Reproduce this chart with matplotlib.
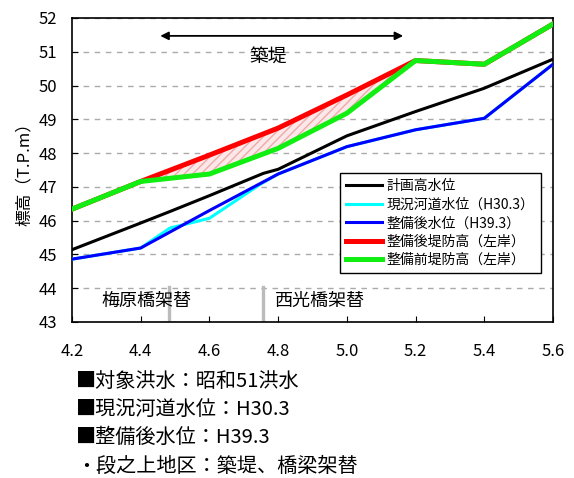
import matplotlib
matplotlib.use('Agg')
import matplotlib.pyplot as plt

plt.rcParams['font.family'] = ['Noto Sans CJK JP', 'DejaVu Sans']

# 距離標 (km)
x_hwl = [4.2, 4.4, 4.485, 4.6, 4.757, 4.8, 5.0, 5.2, 5.4, 5.6]
hwl = [45.14, 45.93, 46.27, 46.74, 47.40, 47.52, 48.51, 49.23, 49.92, 50.78]  # 計画高水位

x_now = [4.2, 4.4, 4.485, 4.6, 4.75, 4.8, 5.0, 5.2, 5.4, 5.6]
wl_now = [44.86, 45.19, 45.78, 46.07, 47.09, 47.38, 48.19, 48.69, 49.03, 50.63]  # 現況河道水位

x_after = [4.2, 4.4, 4.6, 4.8, 5.0, 5.2, 5.4, 5.6]
wl_after = [44.86, 45.19, 46.30, 47.38, 48.19, 48.69, 49.03, 50.63]  # 整備後水位

x_bank = [4.2, 4.4, 4.6, 4.8, 5.0, 5.2, 5.4, 5.6]
bank_after = [46.34, 47.16, 47.94, 48.74, 49.72, 50.74, 50.63, 51.82]  # 整備後堤防高
bank_before = [46.34, 47.16, 47.38, 48.14, 49.18, 50.74, 50.63, 51.82]  # 整備前堤防高

labels = ['計画高水位', '現況河道水位（H30.3）', '整備後水位（H39.3）',
          '整備後堤防高（左岸）', '整備前堤防高（左岸）']

bridges = [4.483, 4.755]
bridge_names = ['梅原橋架替', '西光橋架替']

notes = ['■対象洪水：昭和51洪水', '■現況河道水位：H30.3',
         '■整備後水位：H39.3', '・段之上地区：築堤、橋梁架替']

fig = plt.figure(figsize=(5.74, 4.78), dpi=100)
ax = fig.add_axes([0.1254, 0.3264, 0.838, 0.636])

# 築堤区間のハッチ
ax.fill_between(x_bank, bank_before, bank_after, facecolor='#fce8e8',
                edgecolor='#eeaaaa', hatch='////', linewidth=0, zorder=1)

ax.plot(x_hwl, hwl, color='black', lw=2.2, label=labels[0], zorder=3)
ax.plot(x_now, wl_now, color='#00ffff', lw=2.2, label=labels[1], zorder=3)
ax.plot(x_after, wl_after, color='#0000ff', lw=2.2, label=labels[2], zorder=4)
ax.plot(x_bank, bank_after, color='#ff0000', lw=3.6, label=labels[3], zorder=5)
ax.plot(x_bank, bank_before, color='#11ee11', lw=3.6, label=labels[4], zorder=6)

# 橋梁架替位置
for b in bridges:
    ax.plot([b, b], [43, 44.05], color='#bbbbbb', lw=2.4, zorder=2)
ax.text(4.286, 43.63, bridge_names[0], fontsize=13, va='center', ha='left')
ax.text(4.79, 43.63, bridge_names[1], fontsize=13, va='center', ha='left')

# 築堤区間の矢印
ax.annotate('', xy=(4.457, 51.47), xytext=(5.164, 51.47),
            arrowprops=dict(arrowstyle='<|-|>', color='black', lw=1.3,
                            mutation_scale=12, shrinkA=0, shrinkB=0))
ax.text(4.77, 50.86, '築堤', fontsize=13.5, ha='center', va='center')

ax.set_xlim(4.2, 5.6)
ax.set_ylim(43, 52)
ax.set_xticks([4.2, 4.4, 4.6, 4.8, 5.0, 5.2, 5.4, 5.6])
ax.set_xticklabels(['4.2', '4.4', '4.6', '4.8', '5.0', '5.2', '5.4', '5.6'])
ax.set_yticks(range(43, 53))
ax.tick_params(axis='x', direction='in', length=4, pad=15, labelsize=12)
ax.tick_params(axis='y', direction='in', length=4, pad=11, labelsize=12)
ax.yaxis.grid(True, color='#aaaaaa', linestyle=(0, (4, 4)), lw=1)
ax.set_axisbelow(True)
for s in ax.spines.values():
    s.set_linewidth(1.2)
ax.set_ylabel('標高（T.P.m）', fontsize=12, labelpad=4)

leg = ax.legend(loc='lower right', bbox_to_anchor=(0.9745, 0.160), fontsize=10,
                fancybox=False, edgecolor='black', framealpha=1,
                handlelength=2.6, borderaxespad=0, labelspacing=0.32,
                handletextpad=0.3, borderpad=0.45)
leg.get_frame().set_linewidth(1.0)

for i, t in enumerate(notes):
    y = 1 - (381.7 + 28.1 * i) / 478
    fig.text(0.133, y, t, fontsize=14.5, va='center', ha='left')

fig.savefig('out.png', dpi=100)
